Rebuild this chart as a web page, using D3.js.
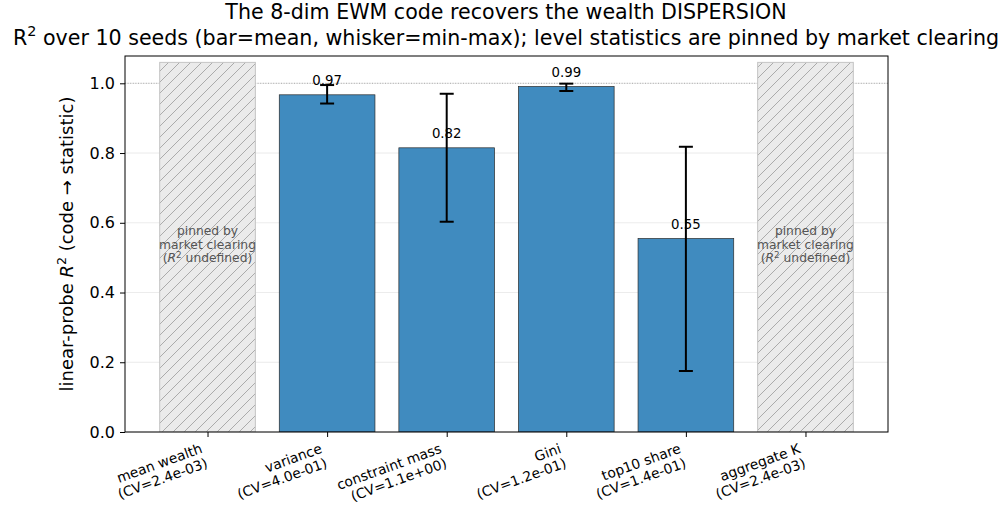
<!DOCTYPE html>
<html>
<head>
<meta charset="utf-8">
<script src="https://cdn.jsdelivr.net/npm/d3@7"></script>
<style>
  html, body { margin: 0; padding: 0; background: #fff; }
  svg { display: block; font-family: "DejaVu Sans", sans-serif; }
</style>
</head>
<body>
<svg id="chart" width="1008" height="506"></svg>
<script>
// Linear-probe R^2 per wealth statistic, over 10 seeds
const statNames = ["mean wealth", "variance", "constraint mass", "Gini", "top10 share", "aggregate K"];
const cvLabels  = ["(CV=2.4e-03)", "(CV=4.0e-01)", "(CV=1.1e+00)", "(CV=1.2e-01)", "(CV=1.4e-01)", "(CV=2.4e-03)"];
// null = pinned by market clearing (R^2 undefined)
const meanR2 = [null, 0.967, 0.815, 0.991, 0.555, null];
const minR2  = [null, 0.942, 0.603, 0.978, 0.175, null];
const maxR2  = [null, 0.995, 0.970, 0.999, 0.818, null];
const valueLabels = ["", "0.97", "0.82", "0.99", "0.55", ""];
const pinnedHeight = 1.06;
const yTicks = [0.0, 0.2, 0.4, 0.6, 0.8, 1.0];

const svg = d3.select("#chart");
const W = 1008, H = 506;
const margin = { left: 125, right: W - 888, top: 56, bottom: H - 432 };
const innerW = W - margin.left - margin.right;
const innerH = H - margin.top - margin.bottom;

const idx = d3.range(statNames.length);
const x = d3.scaleLinear().domain([-0.69, statNames.length - 1 + 0.69]).range([margin.left, W - margin.right]);
const y = d3.scaleLinear().domain([0, 1.0783]).range([H - margin.bottom, margin.top]);
const barW = x(0.8) - x(0);

// hatch pattern for pinned statistics
const defs = svg.append("defs");
const hs = 11;
const pat = defs.append("pattern")
  .attr("id", "hatch").attr("patternUnits", "userSpaceOnUse")
  .attr("width", hs).attr("height", hs);
pat.append("rect").attr("width", hs).attr("height", hs).attr("fill", "#ebebeb");
pat.append("path").attr("d", `M-2,${hs + 2} L${hs + 2},-2 M-2,2 L2,-2 M${hs - 2},${hs + 2} L${hs + 2},${hs - 2}`)
  .attr("stroke", "#ababab").attr("stroke-width", 1);
defs.append("clipPath").attr("id", "plotclip").append("rect")
  .attr("x", margin.left).attr("y", margin.top).attr("width", innerW).attr("height", innerH);

// horizontal grid
svg.append("g").selectAll("line").data(yTicks).join("line")
  .attr("x1", margin.left).attr("x2", W - margin.right)
  .attr("y1", d => y(d)).attr("y2", d => y(d))
  .attr("stroke", "#e6e6e6").attr("stroke-width", 0.8);

// reference line at R^2 = 1
svg.append("line")
  .attr("x1", margin.left).attr("x2", W - margin.right)
  .attr("y1", y(1)).attr("y2", y(1))
  .attr("stroke", "#999").attr("stroke-width", 0.8).attr("stroke-dasharray", "1,1.6");

const plot = svg.append("g").attr("clip-path", "url(#plotclip)");

// pinned (hatched) bars
const pinned = idx.filter(i => meanR2[i] === null);
plot.selectAll("rect.pinned").data(pinned).join("rect")
  .attr("class", "pinned")
  .attr("x", i => x(i) - barW / 2).attr("width", barW)
  .attr("y", y(pinnedHeight)).attr("height", y(0) - y(pinnedHeight))
  .attr("fill", "url(#hatch)").attr("stroke", "#c4c4c4").attr("stroke-width", 1);

pinned.forEach(i => {
  const t = svg.append("text")
    .attr("x", x(i)).attr("y", y(0.537) + 4)
    .attr("text-anchor", "middle").attr("fill", "#555").attr("font-size", 12.3);
  t.append("tspan").attr("x", x(i)).attr("dy", "-1.1em").text("pinned by");
  t.append("tspan").attr("x", x(i)).attr("dy", "1.1em").text("market clearing");
  const l3 = t.append("tspan").attr("x", x(i)).attr("dy", "1.1em");
  l3.append("tspan").text("(");
  l3.append("tspan").attr("font-style", "italic").text("R");
  l3.append("tspan").attr("font-size", 8.8).attr("dy", "-0.5em").text("2");
  l3.append("tspan").attr("dy", "0.36em").text(" undefined)");
});

// measured bars
const measured = idx.filter(i => meanR2[i] !== null);
plot.selectAll("rect.bar").data(measured).join("rect")
  .attr("class", "bar")
  .attr("x", i => x(i) - barW / 2).attr("width", barW)
  .attr("y", i => y(meanR2[i])).attr("height", i => y(0) - y(meanR2[i]))
  .attr("fill", "#408bbf").attr("stroke", "#2b2b2b").attr("stroke-width", 0.7);

// value labels
svg.selectAll("text.val").data(measured).join("text")
  .attr("class", "val")
  .attr("x", i => x(i)).attr("y", i => y(meanR2[i] + 0.03) + 1)
  .attr("text-anchor", "middle").attr("font-size", 13.3).attr("fill", "#000")
  .text(i => valueLabels[i]);

// min-max whiskers
const wg = svg.append("g").attr("stroke", "#000").attr("stroke-width", 2);
measured.forEach(i => {
  wg.append("line").attr("x1", x(i)).attr("x2", x(i)).attr("y1", y(minR2[i])).attr("y2", y(maxR2[i]));
  [minR2[i], maxR2[i]].forEach(v => {
    wg.append("line").attr("x1", x(i) - 7).attr("x2", x(i) + 7).attr("y1", y(v)).attr("y2", y(v));
  });
});

// frame
svg.append("rect")
  .attr("x", margin.left).attr("y", margin.top).attr("width", innerW).attr("height", innerH)
  .attr("fill", "none").attr("stroke", "#000").attr("stroke-width", 1);

// y axis
const yAxis = svg.append("g").attr("transform", `translate(${margin.left},0)`)
  .call(d3.axisLeft(y).tickValues(yTicks).tickFormat(d3.format(".1f")).tickSize(5).tickPadding(5));
yAxis.select(".domain").remove();
yAxis.selectAll("text").attr("font-size", 16).attr("font-family", "DejaVu Sans").attr("fill", "#000");
yAxis.selectAll("line").attr("stroke", "#000");

// x axis ticks
const xAxis = svg.append("g").attr("transform", `translate(0,${H - margin.bottom})`)
  .call(d3.axisBottom(x).tickValues(idx).tickFormat("").tickSize(5));
xAxis.select(".domain").remove();
xAxis.selectAll("line").attr("stroke", "#000");

// rotated two-line tick labels
idx.forEach(i => {
  const g = svg.append("g")
    .attr("transform", `translate(${x(i) - 8},${H - margin.bottom + 10}) rotate(-20)`);
  const t = g.append("text").attr("text-anchor", "end").attr("font-size", 13.8).attr("fill", "#000");
  t.append("tspan").attr("x", 0).attr("dy", "0.8em").text(statNames[i]);
  t.append("tspan").attr("x", 0).attr("dy", "1.12em").text(cvLabels[i]);
});

// y label
const yl = svg.append("text")
  .attr("transform", `translate(73,${(margin.top + H - margin.bottom) / 2}) rotate(-90)`)
  .attr("text-anchor", "middle").attr("font-size", 18).attr("fill", "#000");
yl.append("tspan").text("linear-probe ");
yl.append("tspan").attr("font-style", "italic").text("R");
yl.append("tspan").attr("font-size", 12.5).attr("dy", "-0.6em").text("2");
yl.append("tspan").attr("dy", "0.42em").text(" (code \u2192 statistic)");

// title
svg.append("text").attr("x", 506).attr("y", 19).attr("text-anchor", "middle")
  .attr("font-size", 20.6).attr("fill", "#000")
  .text("The 8-dim EWM code recovers the wealth DISPERSION");
const t2 = svg.append("text").attr("x", 506).attr("y", 45).attr("text-anchor", "middle")
  .attr("font-size", 20.6).attr("fill", "#000");
t2.append("tspan").text("R");
t2.append("tspan").attr("font-size", 14.4).attr("dy", "-0.6em").text("2");
t2.append("tspan").attr("dy", "0.42em").text(" over 10 seeds (bar=mean, whisker=min-max); level statistics are pinned by market clearing");
</script>
</body>
</html>
